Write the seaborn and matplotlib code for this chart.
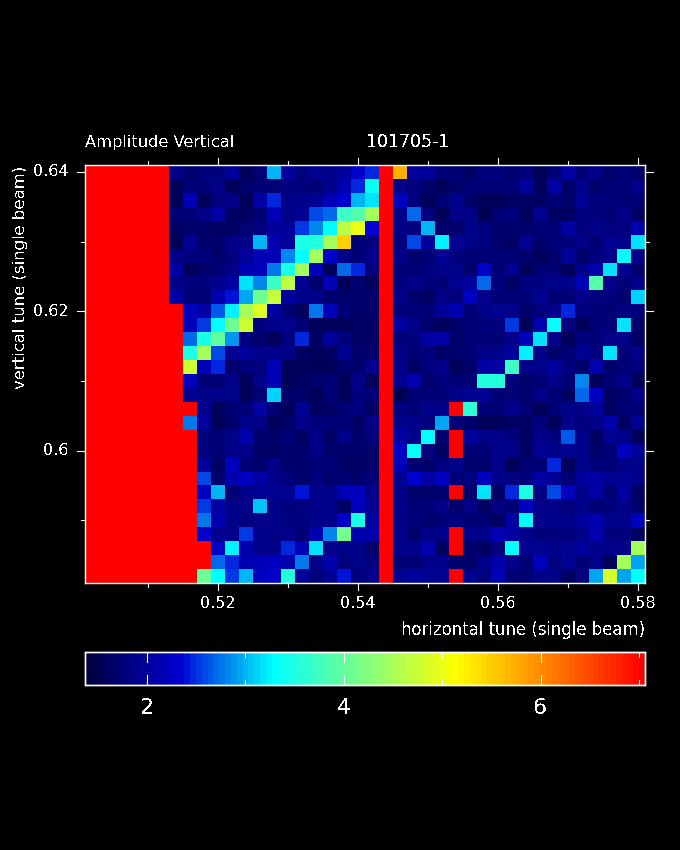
import numpy as np
import matplotlib
matplotlib.use("Agg")
import matplotlib.pyplot as plt
from matplotlib.colors import LinearSegmentedColormap
import seaborn as sns

R = 7.1  # saturated cells

# amplitude per cell, top row first, 40 columns x 30 rows
row00 = [R]*6 + [1.9,1.7,1.8,1.8,2.0,1.6,1.75,3.0,2.0,1.8,1.95,1.9,2.0,2.3,2.45, R, 5.7,2.0,2.0,1.75,1.75,1.65,1.8,1.8,1.7,1.8,1.6,1.75,2.05,1.75,1.9,1.7,1.75,1.7]
row01 = [R]*6 + [1.6,1.75,1.75,1.85,1.55,1.7,1.75,1.75,1.8,1.8,1.75,1.85,2.1,2.45,3.35, R, 1.85,1.8,1.7,1.6,1.7,1.75,1.75,1.75,1.75,2.0,1.55,2.05,1.7,1.85,1.7,1.75,1.75,1.85]
row02 = [R]*6 + [1.55,2.15,1.6,1.8,1.85,1.6,2.05,2.45,1.85,1.85,1.95,2.15,2.35,3.0,3.2, R, 2.2,1.8,1.6,1.75,1.85,1.7,1.6,1.6,1.65,1.65,1.65,1.75,1.7,1.95,1.8,1.8,1.75,1.75]
row03 = [R]*6 + [1.75,1.75,1.9,2.05,1.65,1.65,1.75,2.15,1.85,1.95,2.6,2.7,3.7,3.9,4.5, R, 1.9,2.7,1.8,1.6,1.85,1.9,1.5,1.75,1.8,1.6,1.95,1.65,1.65,1.8,1.8,1.75,1.85,1.65]
row04 = [R]*6 + [1.65,1.7,1.7,1.65,1.65,1.75,1.8,2.0,2.0,2.55,2.85,3.3,4.65,5.0,2.35, R, 1.85,1.8,3.0,1.7,1.7,1.85,1.8,1.7,1.7,1.7,1.75,1.75,2.05,1.8,1.9,1.8,1.8,2.1]
row05 = [R]*6 + [1.6,1.95,1.7,1.7,1.85,1.85,3.0,2.1,2.0,3.45,3.55,4.5,5.5,1.75,1.8, R, 1.8,2.6,2.0,3.25,1.95,1.9,1.8,1.7,1.65,1.95,1.7,1.75,1.8,1.85,1.75,1.95,1.9,3.15]
row06 = [R]*6 + [1.9,1.8,1.8,1.7,1.8,2.0,2.15,2.15,2.85,3.3,4.5,2.3,1.85,1.75,1.85, R, 1.9,1.7,1.75,1.95,1.8,1.75,1.75,1.75,1.75,1.7,1.6,1.7,2.0,1.7,1.8,1.9,3.3,1.85]
row07 = [R]*6 + [2.05,1.6,1.7,1.75,1.9,2.15,2.15,2.75,3.45,4.5,2.15,1.6,2.7,2.45,1.8, R, 1.75,1.75,1.8,1.9,1.9,1.7,2.3,1.75,1.95,1.6,1.75,1.75,1.6,1.85,2.1,3.2,1.95,1.7]
row08 = [R]*6 + [1.85,1.8,1.8,1.85,2.05,3.2,2.85,3.7,4.65,1.95,1.7,2.15,1.6,1.7,1.6, R, 1.8,1.9,1.8,1.75,1.95,2.0,2.7,1.8,1.65,1.8,1.8,1.85,1.9,2.15,3.9,1.9,1.75,1.85]
row09 = [R]*6 + [2.05,1.75,1.75,2.1,2.4,2.95,4.05,4.7,2.0,1.85,1.85,1.7,1.7,1.7,1.7, R, 1.85,1.7,1.65,1.85,1.8,2.2,1.9,1.75,1.75,1.75,1.95,1.75,1.75,1.9,1.8,1.8,1.7,3.1]
row10 = [R]*7 + [2.2,2.05,2.65,3.25,4.5,4.9,2.05,1.75,1.55,2.75,2.15,1.75,1.7,1.7, R, 1.8,1.8,1.75,2.0,2.1,1.75,1.85,1.95,1.85,1.7,1.8,1.9,2.45,1.8,1.75,1.75,1.8,1.8]
row11 = [R]*7 + [2.15,2.55,3.3,4.05,4.8,1.8,1.85,1.95,1.75,1.6,1.6,1.6,1.65,1.65, R, 2.0,1.85,1.7,1.6,1.7,1.75,1.8,1.8,2.5,1.6,2.1,3.3,1.8,1.6,1.75,1.75,3.15,1.7]
row12 = [R]*7 + [2.7,3.45,4.0,2.9,1.8,1.7,1.6,1.8,2.45,1.65,2.0,1.8,1.65,1.65, R, 1.8,1.8,2.05,2.05,1.7,1.75,1.75,1.75,1.85,2.15,3.2,1.85,1.6,1.8,1.75,1.85,1.85,1.65]
row13 = [R]*7 + [3.5,4.5,2.6,1.95,2.0,1.9,1.85,1.9,1.65,1.6,1.65,1.95,1.7,1.7, R, 1.9,1.75,1.8,1.65,1.7,1.75,1.85,1.85,2.0,3.25,1.85,1.7,1.75,1.95,1.8,3.2,1.75,1.85]
row14 = [R]*7 + [4.75,2.15,2.45,1.7,1.8,1.8,2.15,1.6,1.6,1.6,1.6,1.7,1.7,1.95, R, 1.85,1.65,1.8,1.9,1.6,1.7,2.05,2.05,3.7,1.9,1.9,2.0,1.8,1.7,2.1,1.7,1.75,1.8]
row15 = [R]*7 + [2.2,1.75,1.75,1.85,1.6,1.85,2.15,1.6,1.65,1.7,1.75,1.55,1.85,1.6, R, 1.95,2.1,1.7,1.8,1.75,1.75,3.55,3.55,1.8,1.7,1.75,1.85,1.75,2.8,1.6,1.75,1.85,1.6]
row16 = [R]*7 + [1.95,1.85,1.9,1.9,1.6,1.75,3.1,1.7,1.7,1.6,1.75,1.6,1.8,1.75, R, 1.5,1.75,1.75,1.75,1.85,1.95,1.95,1.75,1.75,1.7,1.9,1.75,1.65,2.7,2.2,1.65,1.7,1.85]
row17 = [R]*8 + [1.95,1.6,1.75,1.75,2.05,1.75,1.6,1.95,1.65,1.65,1.75,1.8,1.65, R, 1.8,1.75,1.85,1.85,R,3.6,1.75,1.75,1.9,1.75,1.6,1.75,1.85,1.9,2.0,1.65,1.75,1.75]
row18 = [R]*7 + [2.75,2.0,1.6,1.7,1.85,1.9,1.6,1.7,1.9,1.8,1.75,1.75,1.65,1.85, R, 1.9,1.9,1.8,2.95,1.75,1.7,1.6,1.6,1.65,1.65,1.8,1.6,1.85,1.8,1.9,2.1,1.65,1.95]
row19 = [R]*8 + [1.8,1.75,1.85,2.1,1.7,1.7,1.75,1.65,1.9,1.65,1.9,1.7,1.8, R, 2.05,1.9,3.3,1.7,R,2.0,1.85,1.85,1.8,1.65,1.85,1.8,2.65,1.9,1.65,1.95,1.85,1.6]
row20 = [R]*8 + [1.8,1.75,1.85,1.85,1.7,1.65,1.7,1.7,1.9,1.7,1.7,1.7,1.7, R, 2.3,3.3,1.8,1.65,R,1.75,1.75,1.9,1.9,1.65,1.95,1.9,1.95,1.9,1.7,1.75,2.2,2.0]
row21 = [R]*8 + [2.0,1.65,2.25,1.75,1.7,1.85,1.7,1.7,1.75,1.75,1.65,1.65,1.7, R, 2.15,1.7,1.7,1.8,1.85,1.7,1.7,1.85,1.6,1.75,1.75,2.45,1.55,1.85,1.8,1.75,1.9,1.9]
row22 = [R]*8 + [2.6,1.7,2.1,2.2,2.05,1.85,1.8,1.7,1.8,1.7,1.75,1.7,1.75, R, 1.95,2.35,2.05,2.2,1.75,1.8,2.2,1.85,1.8,1.8,2.05,1.95,1.75,2.0,2.05,1.95,1.95,1.9]
row23 = [R]*8 + [2.2,3.0,1.75,1.9,1.95,1.95,1.95,2.4,1.9,1.9,2.15,2.2,1.9, R, 1.85,1.7,1.7,1.7,R,1.7,3.15,1.65,2.45,3.5,1.8,2.6,2.2,1.9,2.05,1.75,2.05,1.65]
row24 = [R]*8 + [2.55,2.05,1.85,1.85,3.05,1.85,1.8,1.8,1.85,1.85,1.65,2.2,1.95, R, 1.85,1.75,1.75,1.9,1.7,1.9,1.65,1.8,1.75,2.25,1.85,1.85,1.8,1.85,1.75,1.8,1.85,1.7]
row25 = [R]*8 + [2.75,2.1,1.85,1.8,1.9,1.9,1.8,1.8,1.9,1.9,2.3,3.5,2.05, R, 1.9,1.8,1.7,1.75,1.8,1.75,1.75,1.65,2.05,3.3,1.9,1.9,1.85,2.0,2.1,1.85,1.85,2.2]
row26 = [R]*8 + [2.3,1.95,1.9,2.5,1.9,1.9,1.9,1.75,2.1,2.8,4.1,2.1,2.1, R, 1.85,1.7,1.85,1.85,R,1.85,1.85,2.15,2.05,1.9,1.8,1.8,1.8,1.85,2.1,1.8,1.8,1.65]
row27 = [R]*9 + [2.3,3.25,2.1,1.85,1.85,2.45,2.15,3.15,1.85,1.85,1.85,1.7, R, 1.85,1.9,2.1,1.65,R,1.7,1.65,1.8,3.3,1.95,1.95,1.9,1.95,2.0,1.9,1.9,1.9,4.5]
row28 = [R]*9 + [2.7,2.45,2.1,2.15,2.25,2.1,2.75,1.85,2.1,1.8,1.85,1.8, R, 1.75,1.75,1.9,1.9,1.7,1.7,1.85,2.1,1.9,1.75,2.2,1.8,1.95,1.75,1.9,1.6,4.5,2.95]
row29 = [R]*8 + [4.05,3.3,2.55,3.0,2.25,2.3,3.55,2.0,1.8,1.95,2.4,1.8,1.85, R, 1.95,2.0,1.95,1.95,R,1.95,1.8,2.15,1.75,1.75,1.85,1.85,1.65,1.8,2.95,4.85,2.95,3.3]

amplitude = np.array([row00, row01, row02, row03, row04, row05, row06, row07, row08, row09,
                      row10, row11, row12, row13, row14, row15, row16, row17, row18, row19,
                      row20, row21, row22, row23, row24, row25, row26, row27, row28, row29])

h_ticks = [0.51, 0.52, 0.53, 0.54, 0.55, 0.56, 0.57, 0.58]
v_ticks = [0.59, 0.60, 0.61, 0.62, 0.63, 0.64]
h_labels = {0.52: "0.52", 0.54: "0.54", 0.56: "0.56", 0.58: "0.58"}
v_labels = {0.60: "0.6", 0.62: "0.62", 0.64: "0.64"}
bar_ticks = [2, 3, 4, 5, 6, 7]
bar_labels = ["2", "", "4", "", "6", ""]

H_MIN, V_MAX, STEP = 0.501, 0.641, 0.002
BAR_MIN, BAR_MAX = 1.37, 7.06

stops = [(0.0, (0, 0, 64)), (0.17, (0, 0, 210)), (0.195, (0, 50, 225)), (0.335, (0, 255, 255)),
         (0.5, (128, 255, 128)), (0.665, (255, 255, 0)), (1.0, (255, 0, 0))]
tune_cmap = LinearSegmentedColormap.from_list(
    "tune", [(p, tuple(c / 255 for c in rgb)) for p, rgb in stops], N=96)

plt.rcParams["text.antialiased"] = False
plt.rcParams["font.family"] = ["DejaVu Sans"]

fig = plt.figure(figsize=(6.8, 8.5), dpi=100, facecolor="black")
ax = fig.add_axes([85 / 680, 1 - 583 / 850, 560 / 680, 418 / 850])
cax = fig.add_axes([85 / 680, 1 - 685 / 850, 560 / 680, 33 / 850])

sns.heatmap(amplitude, ax=ax, cmap=tune_cmap, vmin=BAR_MIN, vmax=BAR_MAX,
            xticklabels=False, yticklabels=False, cbar_ax=cax,
            cbar_kws={"orientation": "horizontal"})


def style_axis(axis):
    for spine in axis.spines.values():
        spine.set_visible(True)
        spine.set_color("white")
        spine.set_linewidth(1.0)
    axis.set_facecolor("black")


style_axis(ax)
style_axis(cax)

for t in h_ticks:
    pos = (t - H_MIN) / STEP
    major = t in h_labels
    size = 0.5 if major else 0.32
    ax.plot([pos, pos], [30, 30 + size], color="white", lw=0.8, clip_on=False)
    ax.plot([pos, pos], [0, -size], color="white", lw=0.8, clip_on=False)
    if major:
        ax.text(pos, 31.5, h_labels[t], color="white", fontsize=11.5, ha="center", va="center")

for t in v_ticks:
    pos = (V_MAX - t) / STEP
    major = t in v_labels
    size = 0.57 if major else 0.32
    ax.plot([0, -size], [pos, pos], color="white", lw=0.8, clip_on=False)
    ax.plot([40, 40 + size], [pos, pos], color="white", lw=0.8, clip_on=False)
    if major:
        ax.text(-1.21, pos, v_labels[t], color="white", fontsize=11.5, ha="right", va="center")

ax.set_xlim(0, 40)
ax.set_ylim(30, 0)
ax.tick_params(which="both", length=0, labelbottom=False, labelleft=False)

fig.text(85 / 680, 1 - 142 / 850, "Amplitude Vertical", color="white", fontsize=11.7, ha="left", va="center")
fig.text(366 / 680, 1 - 142 / 850, "101705-1", color="white", fontsize=12.5, ha="left", va="center")
fig.text(645 / 680, 1 - 630 / 850, "horizontal tune (single beam)", color="white", fontsize=11.9,
         ha="right", va="center")
fig.text(21 / 680, 1 - 277 / 850, "vertical tune (single beam)", color="white", fontsize=11.85,
         rotation=90, ha="center", va="center")

cbar = ax.collections[0].colorbar
cbar.outline.set_edgecolor("white")
cbar.outline.set_linewidth(1.0)
cbar.set_ticks(bar_ticks)
cbar.set_ticklabels(bar_labels)
cax.tick_params(axis="x", length=0, labelsize=16, labelcolor="white", pad=9)
for v in bar_ticks:
    size = 0.3 if v % 2 == 0 else 0.15
    cax.plot([v, v], [0, size], color="white", lw=0.8)
    cax.plot([v, v], [1, 1 - size], color="white", lw=0.8)
cax.set_xlim(BAR_MIN, BAR_MAX)
cax.set_ylim(0, 1)

fig.savefig("out.png", dpi=100, facecolor="black")
